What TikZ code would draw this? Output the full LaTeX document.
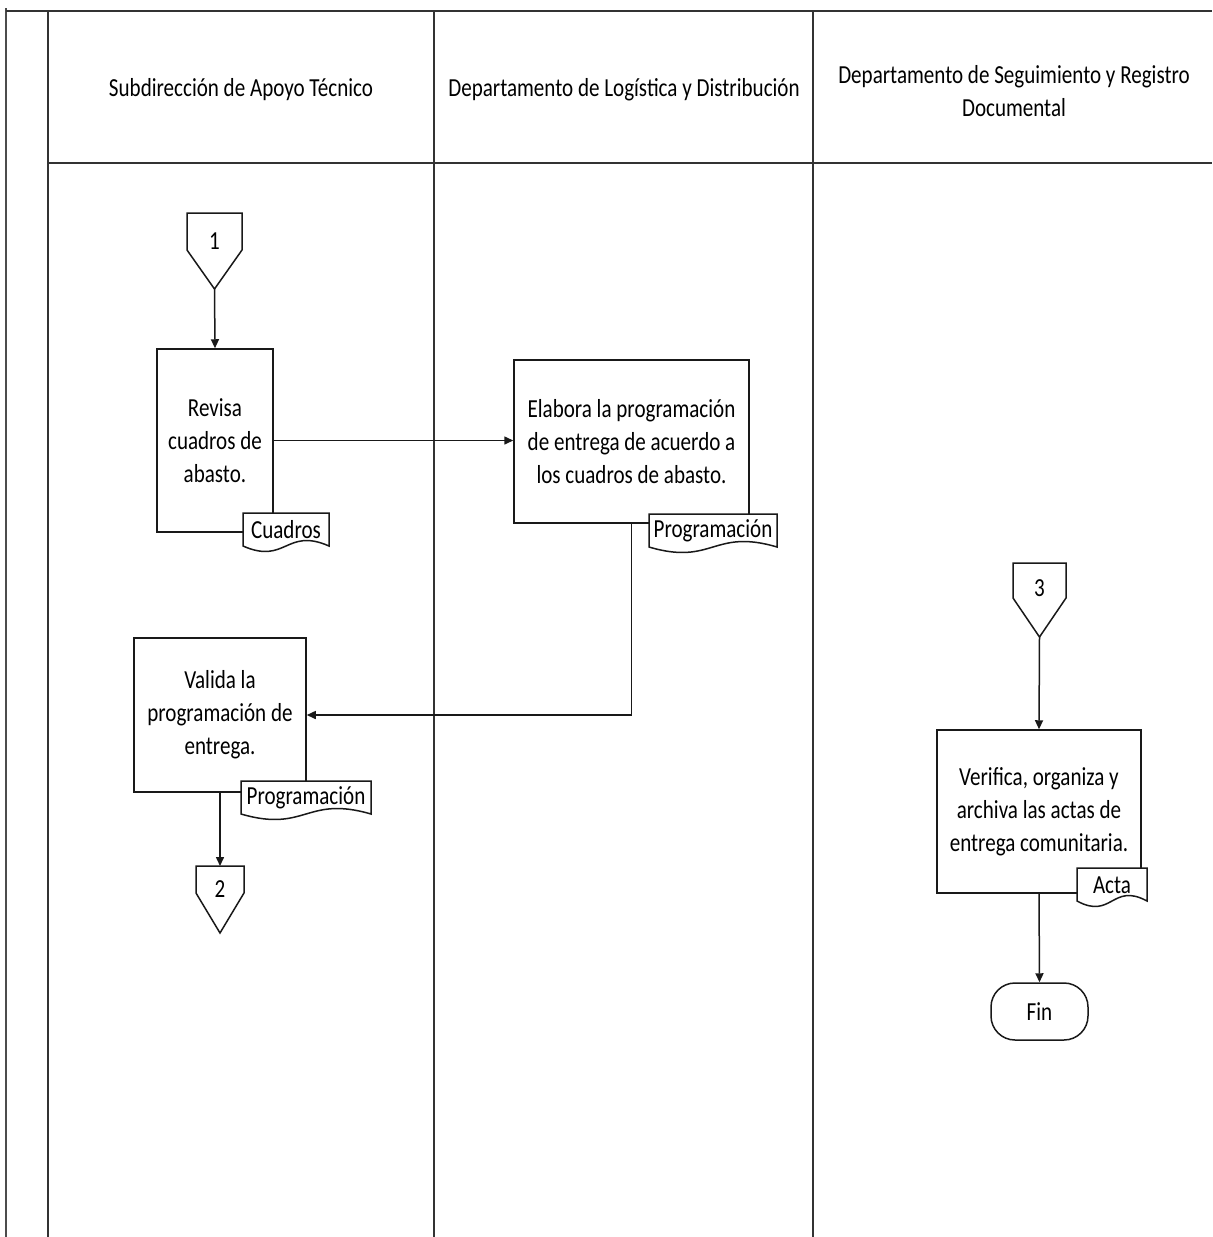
\documentclass[tikz,border=0pt]{standalone}
\usepackage{fontspec}
\setmainfont{Carlito}[FakeStretch=0.81]
\usetikzlibrary{arrows.meta,calc}
\newcommand\docshape[5]{%
  \filldraw[shp] (#2,#3) -- (#4,#3) -- (#4,#3+33)
    .. controls ({(#2+#4)/2},#3+14) and ({(#2+#4)/2},#3+52) .. (#2,#3+33) -- cycle;
  \node (#1) at ({(#2+#4)/2},#3+17) {#5};}
\begin{document}
\begin{tikzpicture}[x=0.5pt,y=-0.5pt,
  every node/.style={font=\fontsize{13}{16.5}\selectfont, inner sep=0pt, text=black},
  lane/.style={line width=1pt, draw=black!80},
  box/.style={draw=black!90, line width=0.75pt, fill=white, align=center, inner sep=2pt},
  arr/.style={line width=0.75pt, draw=black!90, -{Triangle[length=4.5pt,width=4pt]}},
  shp/.style={draw=black!90, line width=0.75pt, fill=white}]
\useasboundingbox (0,0) rectangle (1212,1237);
% lanes
\draw[line width=0.6pt, black!70] (6,8) -- (6,1237);
\draw[lane, line width=1.3pt] (6,11) -- (1212,11);
\draw[lane] (48,11) -- (48,1237);
\draw[lane] (434,11) -- (434,1237);
\draw[lane] (813,11) -- (813,1237);
\draw[lane] (48,163) -- (1212,163);
% headers
\node[align=center] (h1) at (241,90) {Subdirección de Apoyo Técnico};
\node[align=center] (h2) at (624,90) {Departamento de Logística y Distribución};
\node[align=center] (h3) at (1014,91) {Departamento de Seguimiento y Registro\\Documental};
% boxes
\node[box, minimum width=58pt, minimum height=91.5pt] (rev) at (215,440.5) {Revisa\\cuadros de\\abasto.};
\node[box, minimum width=117.5pt, minimum height=81.5pt] (ela) at (631.5,441.5) {Elabora la programación\\de entrega de acuerdo a\\los cuadros de abasto.};
\node[box, minimum width=86pt, minimum height=77pt] (val) at (220,715) {Valida la\\programación de\\entrega.};
\node[box, minimum width=102pt, minimum height=81.5pt] (ver) at (1039,811.5) {Verifica, organiza y\\archiva las actas de\\entrega comunitaria.};
\node[box, minimum width=48.5pt, minimum height=28.5pt, rounded corners=12pt] (fin) at (1039.5,1011.5) {Fin};
% documents
\docshape{d1}{243}{513}{329}{Cuadros}
\docshape{d2}{649}{514}{777}{Programación}
\docshape{d3}{241}{781}{371}{Programación}
\docshape{d4}{1077}{868}{1147}{Acta}
% off-page connectors
\filldraw[shp] (187,213) -- (242,213) -- (242,250) -- (214.5,289) -- (187,250) -- cycle;
\node (c1) at (214.5,241) {1};
\coordinate (c1t) at (214.5,289);
\filldraw[shp] (196,866) -- (244,866) -- (244,893) -- (220,933) -- (196,893) -- cycle;
\node (c2) at (220,889) {2};
\coordinate (c2top) at (220,866);
\filldraw[shp] (1013,563) -- (1066,563) -- (1066,598) -- (1039.5,637) -- (1013,598) -- cycle;
\node (c3) at (1039.5,588) {3};
\coordinate (c3t) at (1039.5,637);
% connectors
\draw[arr] (c1t) -- (rev.north);
\draw[arr] (rev.east) -- (rev.east -| ela.west);
\draw[arr] (ela.south) |- (val.east);
\draw[arr] (val.south) -- (c2top);
\draw[arr] (c3t) -- (ver.north);
\draw[arr] (ver.south) -- (fin.north);
\end{tikzpicture}
\end{document}
